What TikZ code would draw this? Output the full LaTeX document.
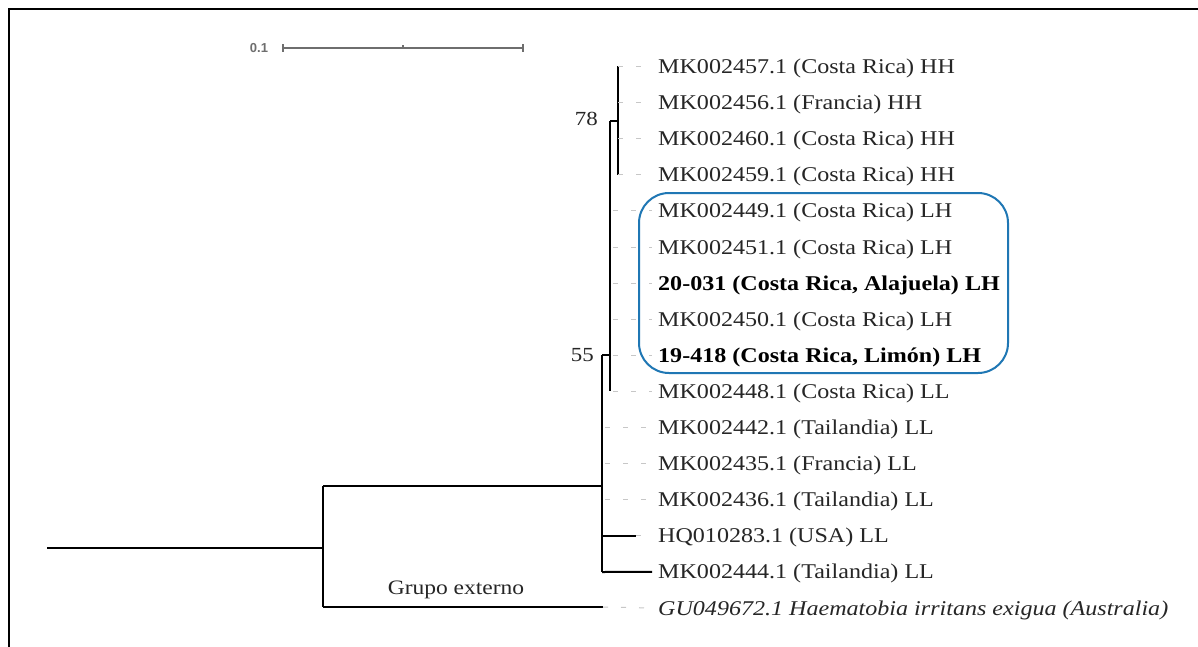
\documentclass[tikz,border=0pt]{standalone}
\usepackage{fontspec}
\setmainfont{Liberation Serif}[FakeStretch=1.146]
\newfontfamily\barfont{Liberation Sans}
\definecolor{boxblue}{RGB}{31,119,180}
\definecolor{bargray}{RGB}{110,110,110}
\begin{document}
\begin{tikzpicture}[x=1pt,y=-1pt,
  branch/.style={line width=2pt,black},
  lead/.style={draw=black!22,line width=1pt,dash pattern=on 5pt off 13pt},
  leaf/.style={anchor=west,inner sep=0pt,text height=14pt,text depth=0pt,font=\fontsize{21}{24}\selectfont,text=black!85},
  boldleaf/.style={leaf,font=\fontsize{21}{24}\selectfont\bfseries,text=black},
  support/.style={anchor=east,inner sep=0pt,font=\fontsize{20}{22}\selectfont,text=black!85},
  hbox/.style={draw=boxblue,line width=2pt,rounded corners=30pt}]
\useasboundingbox (0,0) rectangle (1198,647);
\fill[white] (0,0) rectangle (1198,647);
% frame
\draw[line width=2pt] (9,647) -- (9,9) -- (1198,9);
% scale bar
\node[font=\barfont\bfseries\fontsize{13}{15}\selectfont,text=bargray,inner sep=0pt] (sbl) at (259,48) {0.1};
\coordinate (sba) at (283,48);
\coordinate (sbb) at (523,48);
\coordinate (sbm) at (403,48);
\draw[bargray,line width=1.5pt] (sba) -- (sbb);
\draw[bargray,line width=1.2pt] ([yshift=-4pt]sba) -- ([yshift=4pt]sba);
\draw[bargray,line width=1.2pt] ([yshift=-4pt]sbb) -- ([yshift=4pt]sbb);
\draw[bargray,line width=1.2pt] (sbm) -- ([yshift=3pt]sbm);
% leaves
\node[leaf] (l1) at (658,66.5) {MK002457.1 (Costa Rica) HH};
\node[leaf] (l2) at (658,102.6) {MK002456.1 (Francia) HH};
\node[leaf] (l3) at (658,138.7) {MK002460.1 (Costa Rica) HH};
\node[leaf] (l4) at (658,174.8) {MK002459.1 (Costa Rica) HH};
\node[leaf] (l5) at (658,210.9) {MK002449.1 (Costa Rica) LH};
\node[leaf] (l6) at (658,247.0) {MK002451.1 (Costa Rica) LH};
\node[boldleaf] (l7) at (658,283.1) {20-031 (Costa Rica, Alajuela) LH};
\node[leaf] (l8) at (658,319.2) {MK002450.1 (Costa Rica) LH};
\node[boldleaf] (l9) at (658,355.3) {19-418 (Costa Rica, Limón) LH};
\node[leaf] (l10) at (658,391.4) {MK002448.1 (Costa Rica) LL};
\node[leaf] (l11) at (658,427.5) {MK002442.1 (Tailandia) LL};
\node[leaf] (l12) at (658,463.6) {MK002435.1 (Francia) LL};
\node[leaf] (l13) at (658,499.7) {MK002436.1 (Tailandia) LL};
\node[leaf] (l14) at (658,535.8) {HQ010283.1 (USA) LL};
\node[leaf] (l15) at (658,571.9) {MK002444.1 (Tailandia) LL};
\node[leaf,font=\fontsize{21}{24}\selectfont\itshape] (l16) at (658,608.0) {GU049672.1 Haematobia irritans exigua (Australia)};
% highlight box
\node[hbox,inner sep=0pt,minimum width=369pt,minimum height=180pt] (hl) at (823.5,283) {};
% internal nodes
\coordinate (root) at (47,548);
\coordinate (n1) at (323,548);
\coordinate (n1t) at (323,486);
\coordinate (n1b) at (323,607);
\coordinate (n2) at (602,486);
\coordinate (n2t) at (602,355);
\coordinate (n2b) at (602,572);
\coordinate (n55) at (610,355);
\coordinate (n55t) at (610,121);
\coordinate (n55b) at (610,391.4);
\coordinate (n78) at (618,121);
\coordinate (n78t) at (618,66);
\coordinate (n78b) at (618,175);
\coordinate (og) at (603,607);
\coordinate (hq) at (636,535.8);
% branches
\draw[branch] (root) -- (n1);
\draw[branch] (n1t) -- (n1b);
\draw[branch] (n1b) -- (og);
\draw[branch] (n1t) -- (n2);
\draw[branch] (n2t) -- (n2b);
\draw[branch] (n2b) -- ([xshift=-6pt]l15.west);
\draw[branch] (n2 |- hq) -- (hq);
\draw[branch] (n2t) -- (n55);
\draw[branch] (n55t) -- (n55b);
\draw[branch] (n55t) -- (n78);
\draw[branch] (n78t) -- (n78b);
% leader lines
\foreach \l in {l1,l2,l3,l4} \draw[lead] (n78 |- \l.west) -- ([xshift=-6pt]\l.west);
\foreach \l in {l5,l6,l7,l8,l9,l10} \draw[lead] ([xshift=3pt]n55 |- \l.west) -- ([xshift=-6pt]\l.west);
\foreach \l in {l11,l12,l13} \draw[lead] ([xshift=3pt]n2 |- \l.west) -- ([xshift=-6pt]\l.west);
\draw[lead] (hq) -- ([xshift=-6pt]l14.west);
\draw[lead] (og) -- ([xshift=-6pt]l16.west);
% support values
\node[support] (s78) at (598,119) {78};
\node[support] (s55) at (594,355) {55};
\node[font=\fontsize{20.5}{23}\selectfont,text=black!85,inner sep=0pt] (grp) at (456,590) {Grupo externo};
\end{tikzpicture}
\end{document}
